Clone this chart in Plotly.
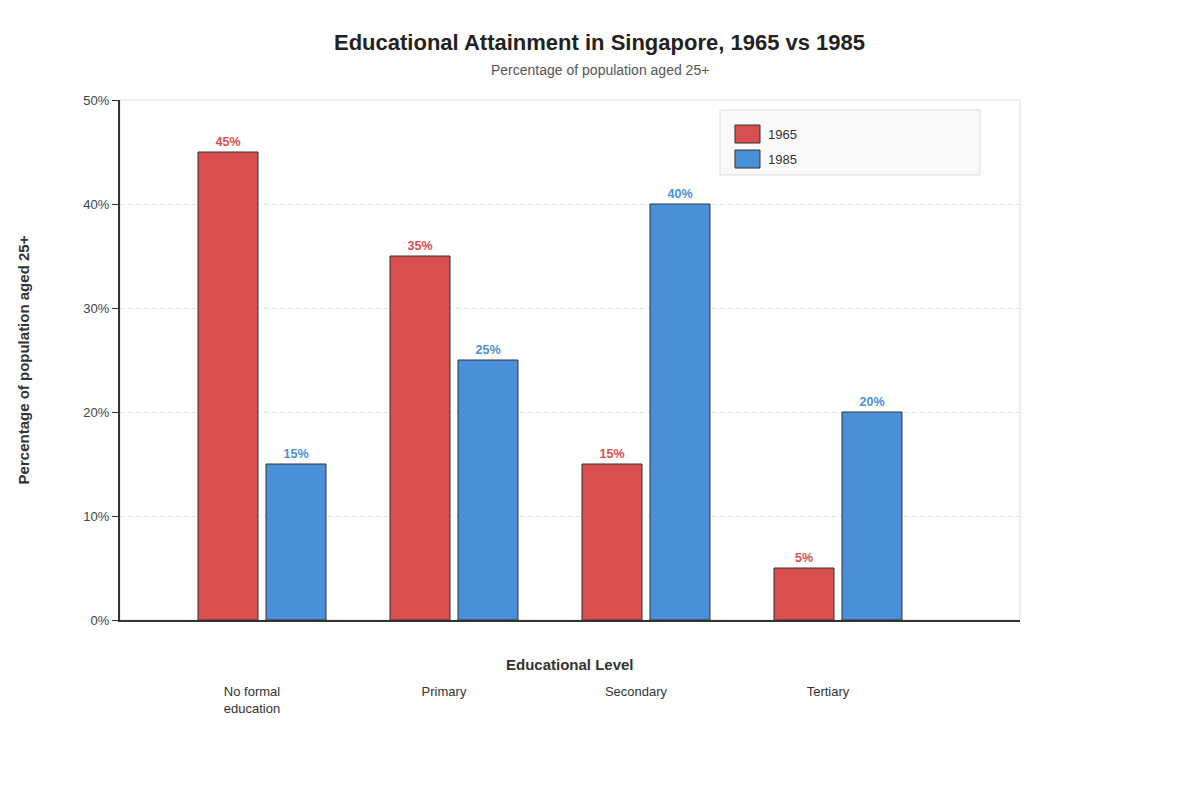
import plotly.graph_objects as go


# data
levels = ['No formal<br>education', 'Primary', 'Secondary', 'Tertiary']
years = ['1965', '1985']
pct_1965 = [45, 35, 15, 5]
pct_1985 = [15, 25, 40, 20]
y_ticks = [0, 10, 20, 30, 40, 50]

colors = {'1965': '#d94f4f', '1985': '#4a90d9'}
values = {'1965': pct_1965, '1985': pct_1985}

FONT = 'Liberation Sans, Arial, sans-serif'

xs = list(range(len(levels)))

fig = go.Figure()

for yr in years:
    fig.add_trace(
        go.Bar(
            name=yr,
            x=xs,
            y=values[yr],
            text=['%d%%' % v for v in values[yr]],
            texttemplate='<b>%{text}</b>',
            textposition='outside',
            textfont=dict(family=FONT, size=12.5, color=colors[yr]),
            marker=dict(color=colors[yr], line=dict(color='#333333', width=1)),
            cliponaxis=False,
            showlegend=False,
        )
    )


# legend drawn by hand so the swatches match the reference size
legend_shapes = [
    dict(type='rect', xref='paper', yref='paper', x0=0.6667, x1=0.9556, y0=0.8558, y1=0.9808,
         fillcolor='#f9f9f9', line=dict(color='#dddddd', width=1), layer='above'),
]
legend_notes = []
for i, yr in enumerate(years):
    top = 0.9519 - i * 0.0481
    legend_shapes.append(
        dict(type='rect', xref='paper', yref='paper', x0=0.6833, x1=0.7111, y0=top - 0.0346, y1=top,
             fillcolor=colors[yr], line=dict(color='#333333', width=1), layer='above')
    )
    legend_notes.append(
        dict(text=yr, xref='paper', yref='paper', x=0.7178, y=top - 0.0173, xanchor='left', yanchor='middle',
             showarrow=False, font=dict(family=FONT, size=13, color='#333333'))
    )

# light frame round the plot area
frame = dict(type='rect', xref='paper', yref='paper', x0=0, x1=1, y0=0, y1=1,
             line=dict(color='#dddddd', width=1), layer='below')

fig.update_layout(
    width=1200,
    height=800,
    margin=dict(l=120, r=180, t=100, b=180),
    paper_bgcolor='white',
    plot_bgcolor='white',
    font=dict(family=FONT, color='#333333'),
    barmode='group',
    bargap=0.2917,
    bargroupgap=0.1176,
    shapes=[frame] + legend_shapes,
    annotations=[
        dict(text='<b>Educational Attainment in Singapore, 1965 vs 1985</b>', xref='paper', yref='paper',
             x=0.5333, y=1.1115, xanchor='center', yanchor='middle', showarrow=False,
             font=dict(family=FONT, size=22, color='#222222')),
        dict(text='Percentage of population aged 25+', xref='paper', yref='paper',
             x=0.5333, y=1.0577, xanchor='center', yanchor='middle', showarrow=False,
             font=dict(family=FONT, size=14, color='#555555')),
        dict(text='<b>Educational Level</b>', xref='paper', yref='paper',
             x=0.5, y=-0.0865, xanchor='center', yanchor='middle', showarrow=False,
             font=dict(family=FONT, size=15, color='#333333')),
    ] + legend_notes,
)

fig.update_xaxes(
    range=[-0.7396, 3.948],
    tickvals=xs,
    ticktext=levels,
    ticks='',
    ticklabelstandoff=58,
    ticklabelshift=-10,
    tickfont=dict(family=FONT, size=13, color='#333333'),
    showgrid=False,
    zeroline=False,
    showline=True,
    linecolor='#333333',
    linewidth=2,
)

fig.update_yaxes(
    range=[0, 50],
    tickvals=y_ticks,
    ticktext=['%d%%' % t for t in y_ticks],
    ticks='outside',
    ticklen=6,
    tickcolor='#333333',
    tickfont=dict(family=FONT, size=13, color='#444444'),
    showgrid=True,
    gridcolor='#e2e2e2',
    griddash='4px,4px',
    zeroline=False,
    showline=True,
    linecolor='#333333',
    linewidth=2,
    title=dict(text='<b>Percentage of population aged 25+</b>', standoff=50,
               font=dict(family=FONT, size=15, color='#333333')),
)

fig.write_html('out.html', config={'displayModeBar': False},
               post_script="document.body.style.margin='0';")
